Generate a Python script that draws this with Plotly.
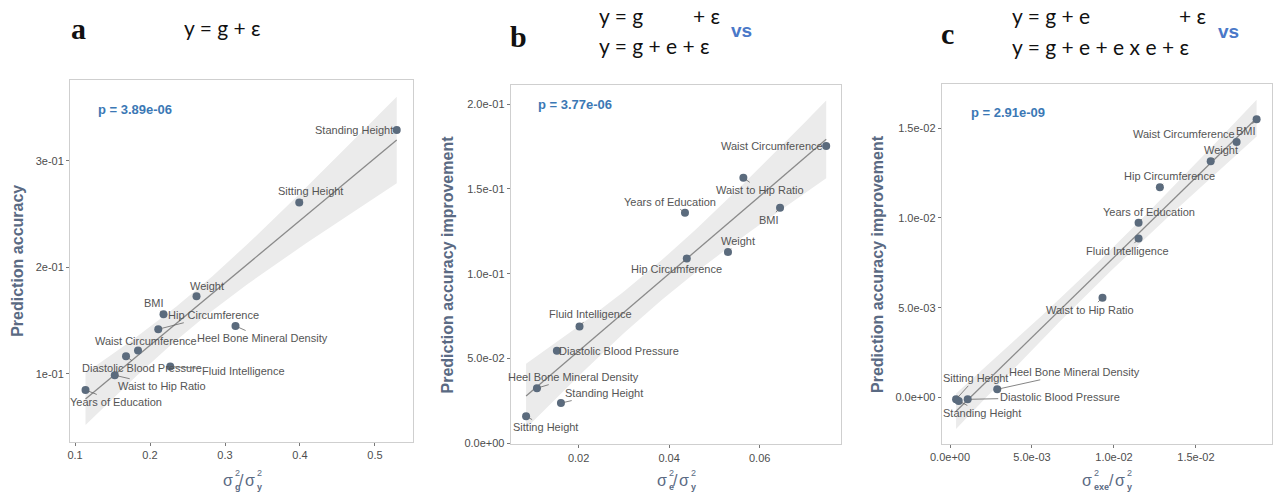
import numpy as np
import plotly.graph_objects as go

# ---------------- data ----------------
traits_a = ["Standing Height", "Sitting Height", "Weight", "BMI", "Hip Circumference",
            "Heel Bone Mineral Density", "Waist Circumference", "Diastolic Blood Pressure",
            "Fluid Intelligence", "Waist to Hip Ratio", "Years of Education"]
x_a = [0.529, 0.399, 0.262, 0.218, 0.211, 0.314, 0.184, 0.168, 0.227, 0.153, 0.114]
y_a = [0.329, 0.261, 0.173, 0.156, 0.142, 0.145, 0.122, 0.1166, 0.1069, 0.0988, 0.085]

traits_b = ["Waist Circumference", "Waist to Hip Ratio", "Years of Education", "BMI", "Weight",
            "Hip Circumference", "Fluid Intelligence", "Diastolic Blood Pressure",
            "Heel Bone Mineral Density", "Standing Height", "Sitting Height"]
x_b = [0.0747, 0.0564, 0.0435, 0.0645, 0.0530, 0.0439, 0.0202, 0.0152, 0.0108, 0.0161, 0.0084]
y_b = [0.1752, 0.1565, 0.1359, 0.1389, 0.1127, 0.1090, 0.0689, 0.0545, 0.0325, 0.0237, 0.0160]

traits_c = ["BMI", "Waist Circumference", "Weight", "Hip Circumference", "Years of Education",
            "Fluid Intelligence", "Waist to Hip Ratio", "Heel Bone Mineral Density",
            "Diastolic Blood Pressure", "Sitting Height", "Standing Height"]
x_c = [0.0187, 0.01748, 0.0159, 0.0128, 0.0115, 0.0115, 0.0093, 0.00288, 0.00108, 0.00037, 0.00053]
y_c = [0.0155, 0.01424, 0.01316, 0.01171, 0.00974, 0.00885, 0.00556, 0.00045, -0.00011, -0.00011, -0.0002]

p_values = ["p = 3.89e-06", "p = 3.77e-06", "p = 2.91e-09"]

xtick_vals_a = [0.1, 0.2, 0.3, 0.4, 0.5]
xtick_text_a = ["0.1", "0.2", "0.3", "0.4", "0.5"]
ytick_vals_a = [0.1, 0.2, 0.3]
ytick_text_a = ["1e-01", "2e-01", "3e-01"]

xtick_vals_b = [0.02, 0.04, 0.06]
xtick_text_b = ["0.02", "0.04", "0.06"]
ytick_vals_b = [0.0, 0.05, 0.10, 0.15, 0.20]
ytick_text_b = ["0.0e+00", "5.0e-02", "1.0e-01", "1.5e-01", "2.0e-01"]

xtick_vals_c = [0.0, 0.005, 0.010, 0.015]
xtick_text_c = ["0.0e+00", "5.0e-03", "1.0e-02", "1.5e-02"]
ytick_vals_c = [0.0, 0.005, 0.010, 0.015]
ytick_text_c = ["0.0e+00", "5.0e-03", "1.0e-02", "1.5e-02"]

x_title_subs = ["g", "e", "exe"]
y_titles = ["Prediction accuracy", "Prediction accuracy improvement", "Prediction accuracy improvement"]

# ---------------- layout / style (label offsets in pixels) ----------------
offsets_a = [(-43, 0), (11, -11), (10, -10), (-10, -11), (55, -14), (27, 12),
             (8, -10), (16, 12), (73, 4), (47, 11), (30, 12)]
offsets_b = [(-54, 0), (17, 12), (-15, -11), (-11, 12), (10, -11), (-10, 11),
             (11, -12), (62, 0), (37, -11), (43, -10), (19, 11)]
offsets_c = [(-11, 12), (-53, -8), (10, -11), (10, -11), (10, -11), (-11, 12),
             (-12, 12), (77, -17), (92, -2), (19, -21), (23, 12)]

W, H = 1275, 494
POINT = "#5b6b7d"
LABEL = "#555555"
TITLE = "#5a6a83"
PBLUE = "#3b78b5"
BAND = "#ebebeb"
TCRIT = 2.262  # t quantile, df = 9 (n = 11)
SANS = "Liberation Sans, Arial"

panels = [
    dict(x=x_a, y=y_a, t=traits_a, off=offsets_a, dom_x=(70, 413), dom_y=(80, 441.7),
         xr=(0.0933, 0.5507), yr=(0.0364, 0.376), xtv=xtick_vals_a, xtt=xtick_text_a,
         ytv=ytick_vals_a, ytt=ytick_text_a, p=p_values[0], ppos=(135, 109),
         sub=x_title_subs[0], yt=y_titles[0], ytx=18,
         tpos=(228, 232.5, 241.5, 249.5, 254.5)),
    dict(x=x_b, y=y_b, t=traits_b, off=offsets_b, dom_x=(510.7, 840.7), dom_y=(84.7, 444.3),
         xr=(0.005, 0.0779), yr=(-0.0006, 0.2114), xtv=xtick_vals_b, xtt=xtick_text_b,
         ytv=ytick_vals_b, ytt=ytick_text_b, p=p_values[1], ppos=(575, 104),
         sub=x_title_subs[1], yt=y_titles[1], ytx=447,
         tpos=(661.5, 666.5, 675.5, 683.5, 688.5)),
    dict(x=x_c, y=y_c, t=traits_c, off=offsets_c, dom_x=(941.7, 1271.7), dom_y=(84, 444),
         xr=(-0.000506, 0.01962), yr=(-0.0026, 0.01747), xtv=xtick_vals_c, xtt=xtick_text_c,
         ytv=ytick_vals_c, ytt=ytick_text_c, p=p_values[2], ppos=(1008, 112),
         sub=x_title_subs[2], yt=y_titles[2], ytx=877,
         tpos=(1087, 1091.5, 1111.5, 1119.5, 1124.5)),
]

fig = go.Figure()
annotations = []
layout_axes = {}


def pa(text, px, py, font, xanchor="center", angle=0):
    annotations.append(dict(x=px / W, y=1 - py / H, xref="paper", yref="paper", text=text,
                            showarrow=False, font=font, xanchor=xanchor, yanchor="middle",
                            textangle=angle))


for i, pn in enumerate(panels):
    k = "" if i == 0 else str(i + 1)
    xref, yref = "x" + k, "y" + k
    x = np.array(pn["x"]); y = np.array(pn["y"])
    # linear fit + 95% confidence band
    n = len(x)
    b1, b0 = np.polyfit(x, y, 1)
    resid = y - (b0 + b1 * x)
    s = np.sqrt(np.sum(resid ** 2) / (n - 2))
    xm = x.mean(); sxx = np.sum((x - xm) ** 2)
    xs = np.linspace(x.min(), x.max(), 80)
    yfit = b0 + b1 * xs
    se = s * np.sqrt(1.0 / n + (xs - xm) ** 2 / sxx)
    up, lo = yfit + TCRIT * se, yfit - TCRIT * se
    fig.add_trace(go.Scatter(x=np.concatenate([xs, xs[::-1]]), y=np.concatenate([up, lo[::-1]]),
                             fill="toself", fillcolor=BAND, line=dict(width=0),
                             mode="lines", hoverinfo="skip", showlegend=False,
                             xaxis=xref, yaxis=yref))
    fig.add_trace(go.Scatter(x=xs, y=yfit, mode="lines", line=dict(color="#8a8a8a", width=1.3),
                             showlegend=False, xaxis=xref, yaxis=yref))
    fig.add_trace(go.Scatter(x=pn["x"], y=pn["y"], mode="markers",
                             marker=dict(color=POINT, size=8), showlegend=False,
                             xaxis=xref, yaxis=yref))
    for xi, yi, ti, (dx, dy) in zip(pn["x"], pn["y"], pn["t"], pn["off"]):
        annotations.append(dict(x=xi, y=yi, xref=xref, yref=yref, text=ti, showarrow=True,
                                ax=dx, ay=dy, arrowhead=0, arrowwidth=0.8, arrowcolor="#666666",
                                standoff=3, font=dict(family=SANS, size=11, color=LABEL)))
    x0, x1 = pn["dom_x"]; y0, y1 = pn["dom_y"]
    axstyle = dict(showline=True, mirror=True, linecolor="#cfcfcf", linewidth=1, showgrid=False,
                   zeroline=False, ticks="outside", ticklen=3, tickcolor="#777777",
                   automargin=False,
                   tickfont=dict(family=SANS, size=11, color="#4d4d4d"))
    layout_axes["xaxis" + k] = dict(domain=[x0 / W, x1 / W], range=list(pn["xr"]), anchor=yref,
                                    tickvals=pn["xtv"], ticktext=pn["xtt"], **axstyle)
    layout_axes["yaxis" + k] = dict(domain=[1 - y1 / H, 1 - y0 / H], range=list(pn["yr"]), anchor=xref,
                                    tickvals=pn["ytv"], ticktext=pn["ytt"], **axstyle)
    # p value
    pa("<b>" + pn["p"] + "</b>", pn["ppos"][0], pn["ppos"][1],
       dict(family=SANS, size=13, color=PBLUE))
    # x axis title: sigma^2_sub / sigma^2_y (stacked super/subscripts)
    s1, sb1, sl, s2, sb2 = pn["tpos"]
    big = dict(family=SANS, size=16, color=TITLE)
    small = dict(family=SANS, size=9, color=TITLE)
    pa("σ", s1, 480, big)
    pa("2", sb1, 472.5, small, "left")
    pa("<b>" + pn["sub"] + "</b>", sb1, 487, small, "left")
    pa("/", sl, 480, big)
    pa("σ", s2, 480, big)
    pa("2", sb2, 472.5, small, "left")
    pa("<b>y</b>", sb2, 487, small, "left")
    # y axis title
    pa("<b>" + pn["yt"] + "</b>", pn["ytx"], (y0 + y1) / 2, dict(family=SANS, size=16, color=TITLE),
       angle=-90)

# panel letters and model equations
EQ = dict(family="Lato, Open Sans, sans-serif", size=21, color="#111111")
LET = dict(family="Liberation Serif, Times New Roman, serif", size=30, color="#111111")
VS = dict(family=SANS, size=19, color="#4a78c8")

pa("<b>a</b>", 78, 29, LET)
pa("<b>b</b>", 518, 36, LET)
pa("<b>c</b>", 947, 33, LET)
pa("y = g + ε", 182, 27, EQ, "left")
pa("y = g", 597, 15, EQ, "left")
pa("+ ε", 722, 15, EQ, "right")
pa("y = g + e + ε", 597, 45, EQ, "left")
pa("<b>vs</b>", 741, 30, VS)
pa("y = g + e", 1010, 15, EQ, "left")
pa("+ ε", 1208, 15, EQ, "right")
pa("y = g + e + e x e + ε", 1010, 47, EQ, "left")
pa("<b>vs</b>", 1228, 32, VS)

fig.update_layout(width=W, height=H, autosize=False, margin=dict(l=0, r=0, t=0, b=0, pad=0),
                  paper_bgcolor="white", plot_bgcolor="white", annotations=annotations,
                  showlegend=False, **layout_axes)

fig.write_html("out.html")
